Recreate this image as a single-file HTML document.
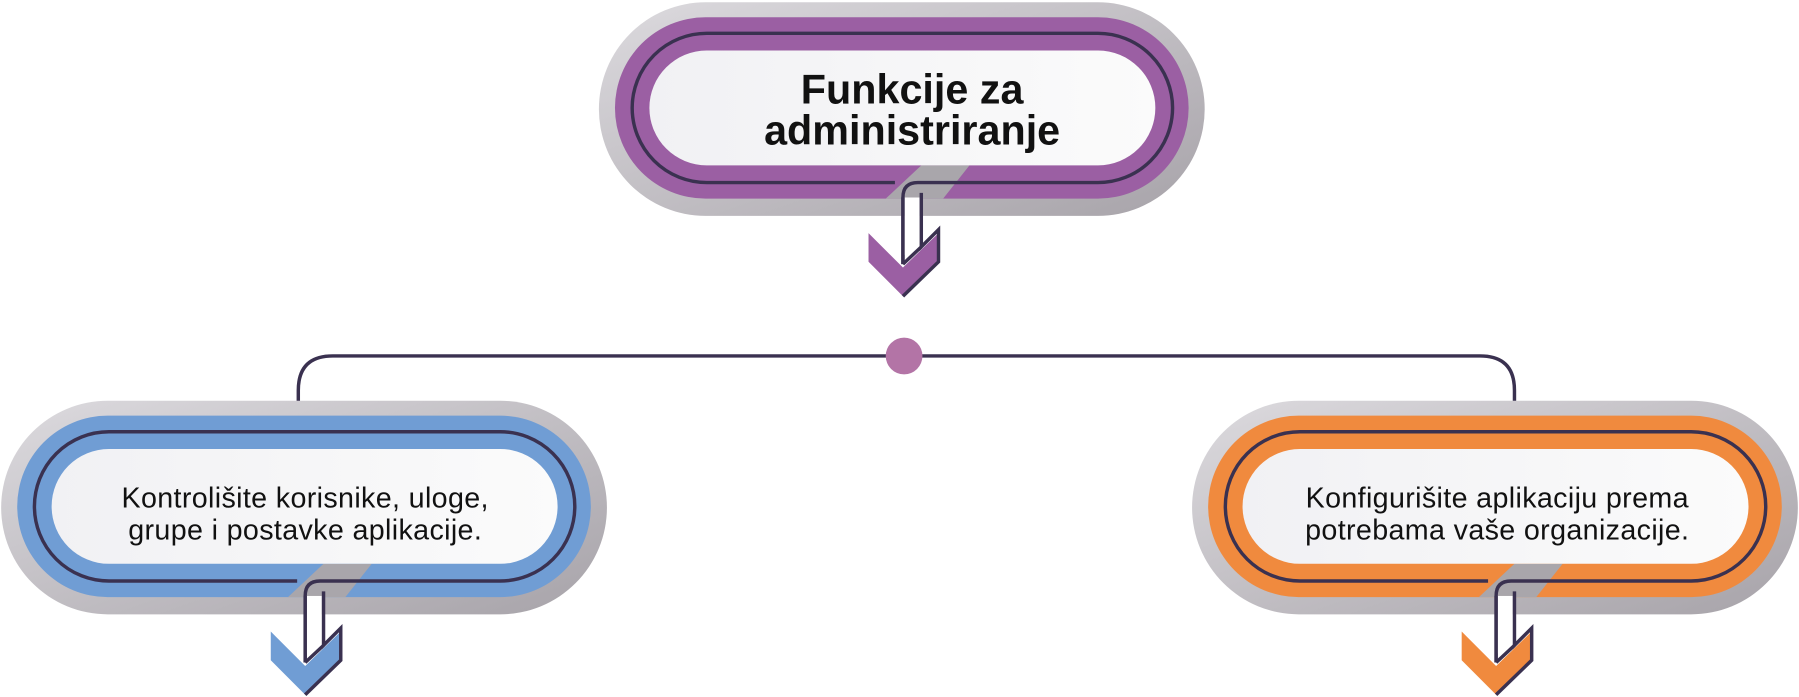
<!DOCTYPE html>
<html><head><meta charset="utf-8"><style>html,body{margin:0;padding:0;background:#fff;width:1799px;height:697px;overflow:hidden}</style></head>
<body>
<svg width="1799" height="697" viewBox="0 0 1568 607" preserveAspectRatio="none" xmlns="http://www.w3.org/2000/svg">
<defs>
<linearGradient id="sh" x1="0" y1="0" x2="1" y2="1"><stop offset="0" stop-color="#dcdade"/><stop offset="1" stop-color="#a7a3a9"/></linearGradient>
<linearGradient id="wh" x1="0" y1="0" x2="1" y2="0"><stop offset="0" stop-color="#f1f1f4"/><stop offset="1" stop-color="#fbfbfb"/></linearGradient>
<g id="pill">
<rect x="522" y="2" width="528" height="186" rx="93" fill="url(#sh)"/>
<rect x="536" y="15" width="500" height="158" rx="79" fill="currentColor"/>
<polygon points="772,173 803,144 845,144 822,173" fill="#a9a6ab"/>
<rect x="566" y="44" width="441" height="100" rx="50" fill="url(#wh)"/>
<path d="M780 159 H616 A65 65 0 0 1 616 29 H957 A65 65 0 0 1 957 159 H800 Q787 159 787 172 V230" fill="none" stroke="#3a3150" stroke-width="3"/>
<rect x="788.5" y="172" width="13" height="50" fill="#fff"/>
<polygon points="757,203 787,233 818,203 818,228 787,258 757,228" fill="currentColor"/>
<path d="M787 172 V230 M803 168 V215 L818 200 V228 L787 258" fill="none" stroke="#3a3150" stroke-width="3"/>
<path d="M787 230 L803 215" fill="none" stroke="#3a3150" stroke-width="3"/>
</g>
</defs>
<path d="M260 378 V340 Q260 310 290 310 H1290 Q1320 310 1320 340 V378" fill="none" stroke="#3a3150" stroke-width="3"/>
<circle cx="788" cy="310" r="16" fill="#b374a6"/>
<use href="#pill" style="color:#9b5fa3"/>
<use href="#pill" transform="translate(-521,347)" style="color:#709dd4"/>
<use href="#pill" transform="translate(517,347)" style="color:#f08a3e"/>
<g font-family="Liberation Sans, sans-serif" text-anchor="middle" fill="#111">
<text x="795" y="90" font-size="36" font-weight="bold">Funkcije za</text>
<text x="795" y="126" font-size="36" font-weight="bold">administriranje</text>
<text x="266" y="442" font-size="25" letter-spacing="0.3">Kontrolišite korisnike, uloge,</text>
<text x="266" y="470" font-size="25" letter-spacing="0.3">grupe i postavke aplikacije.</text>
<text x="1305" y="442" font-size="25" letter-spacing="0.3">Konfigurišite aplikaciju prema</text>
<text x="1305" y="470" font-size="25" letter-spacing="0.3">potrebama vaše organizacije.</text>
</g>
</svg>
</body></html>
